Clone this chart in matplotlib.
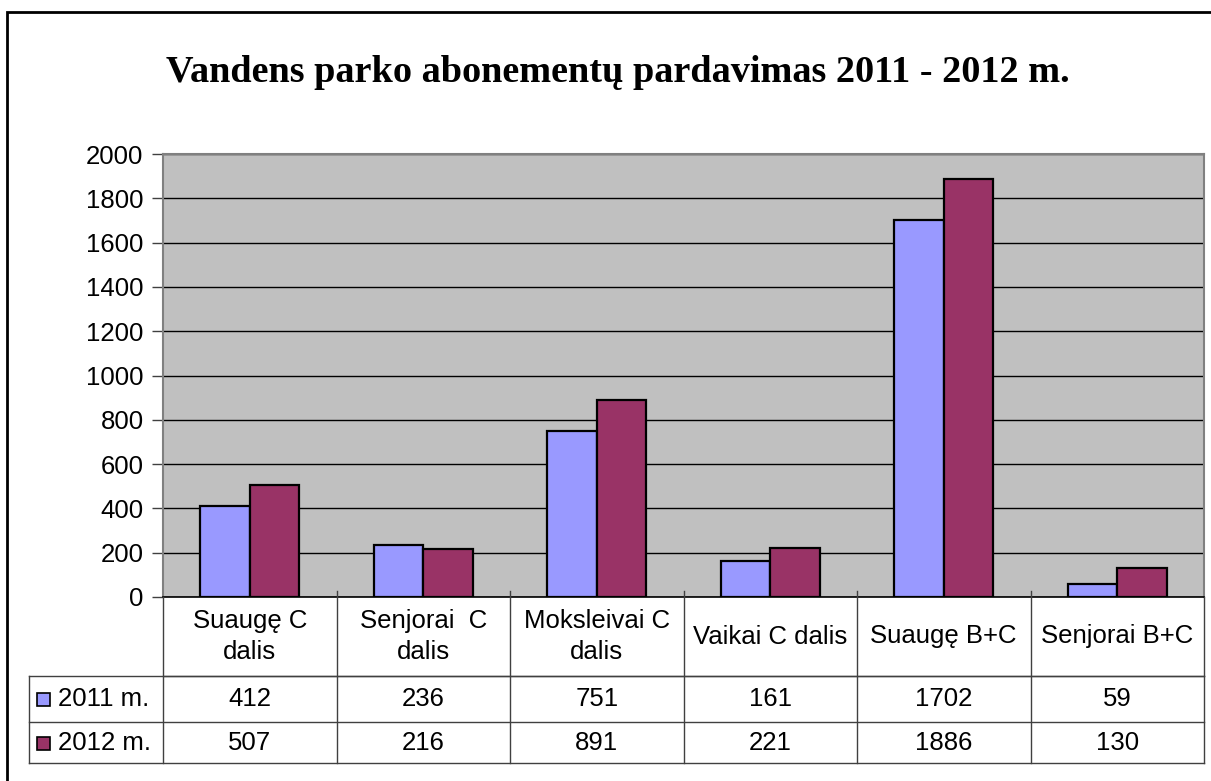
import matplotlib
matplotlib.use('Agg')
import matplotlib.pyplot as plt
from matplotlib.patches import Rectangle

# chart data
categories = ['Suaugę C\ndalis', 'Senjorai  C\ndalis', 'Moksleivai C\ndalis',
              'Vaikai C dalis', 'Suaugę B+C', 'Senjorai B+C']
series_names = ['2011 m.', '2012 m.']
sales_2011 = [412, 236, 751, 161, 1702, 59]
sales_2012 = [507, 216, 891, 221, 1886, 130]
colors = ['#9999FF', '#993366']
yticks = [0, 200, 400, 600, 800, 1000, 1200, 1400, 1600, 1800, 2000]

W, H = 1211, 781
fs = 18.5
fig = plt.figure(figsize=(W / 100, H / 100), dpi=100)
fig.patch.set_facecolor('white')

# plot area in pixel coords (left, right, top, bottom)
pl, pr, pt, pb = 163, 1204, 154, 597
ax = fig.add_axes([pl / W, (H - pb) / H, (pr - pl) / W, (pb - pt) / H])
ax.set_facecolor('#C0C0C0')

n = len(categories)
bw = 1 / 3.5
xs = list(range(n))
ax.bar([x - bw / 2 for x in xs], sales_2011, width=bw, color=colors[0],
       edgecolor='black', linewidth=1.6, zorder=3)
ax.bar([x + bw / 2 for x in xs], sales_2012, width=bw, color=colors[1],
       edgecolor='black', linewidth=1.6, zorder=3)

ax.set_xlim(-0.5, n - 0.5)
ax.set_ylim(0, 2000)
ax.set_yticks(yticks)
ax.set_yticklabels([str(t) for t in yticks], fontsize=fs, family='Liberation Sans')
ax.set_xticks([])
ax.yaxis.grid(True, color='black', linewidth=1.0, zorder=0)
ax.set_axisbelow(True)
ax.tick_params(axis='y', direction='out', length=8, width=1, color='#404040', pad=6)
for side in ['left', 'top', 'right']:
    ax.spines[side].set_color('#808080')
    ax.spines[side].set_linewidth(1.5)
ax.spines['bottom'].set_color('black')
ax.spines['bottom'].set_linewidth(1.2)

fig.text(0.5 * (163 + 1073) / W, 1 - 73 / H,
         'Vandens parko abonementų pardavimas 2011 - 2012 m.',
         ha='center', va='center', fontsize=27.5, fontweight='bold',
         family='Liberation Serif')

# overlay for data table and outer frame (pixel coords, origin bottom-left)
ov = fig.add_axes([0, 0, 1, 1], zorder=5)
ov.set_xlim(0, W)
ov.set_ylim(0, H)
ov.axis('off')
ov.patch.set_alpha(0)

fig.canvas.draw()
bounds = [ax.transData.transform((b - 0.5, 0))[0] for b in range(n + 1)]
centers = [ax.transData.transform((c, 0))[0] for c in xs]

tbl_left = 29
row_y = [H - 597, H - 676, H - 722, H - 763]
lc = '#404040'
lw = 1.0
# horizontal lines
ov.plot([bounds[0], bounds[-1]], [row_y[1]] * 2, color=lc, lw=lw)
for y in row_y[1:]:
    ov.plot([tbl_left, bounds[-1]], [y, y], color=lc, lw=lw)
# vertical lines
for b in bounds:
    ov.plot([b, b], [row_y[0] + 6 if b not in (bounds[0], bounds[-1]) else row_y[0], row_y[3]],
            color=lc, lw=lw)
ov.plot([tbl_left, tbl_left], [row_y[1], row_y[3]], color=lc, lw=lw)

for c, label in zip(centers, categories):
    ov.text(c, (row_y[0] + row_y[1]) / 2, label, ha='center', va='center',
            fontsize=fs, family='Liberation Sans', linespacing=1.42)

rows = [sales_2011, sales_2012]
for r, (name, vals, col) in enumerate(zip(series_names, rows, colors)):
    yc = (row_y[r + 1] + row_y[r + 2]) / 2
    ov.add_patch(Rectangle((37, yc - 7), 13, 13, facecolor=col,
                           edgecolor='black', lw=1.2))
    ov.text(58, yc, name, ha='left', va='center', fontsize=fs,
            family='Liberation Sans')
    for c, v in zip(centers, vals):
        ov.text(c, yc, str(v), ha='center', va='center', fontsize=fs,
                family='Liberation Sans')

# outer chart frame
ov.add_patch(Rectangle((7, -10), W + 10, H - 12 + 10, fill=False,
                       edgecolor='black', lw=2, clip_on=False))

fig.savefig('out.png', dpi=100)
